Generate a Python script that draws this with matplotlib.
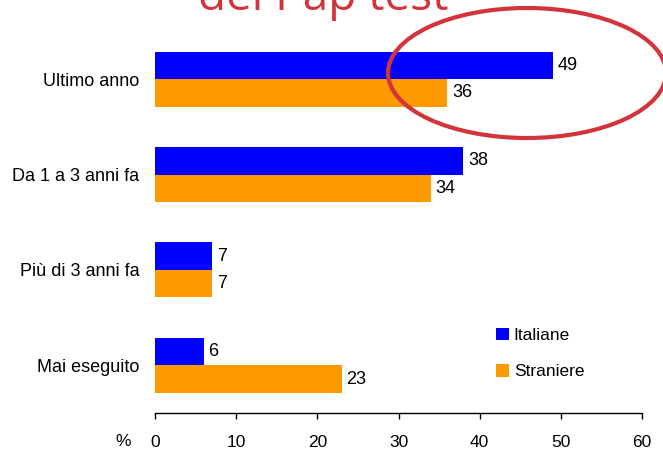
import matplotlib.pyplot as plt
import numpy as np
from matplotlib.patches import Patch, Ellipse

# --- data ---
categories = ["Ultimo anno", "Da 1 a 3 anni fa", "Più di 3 anni fa", "Mai eseguito"]
italiane = [49, 38, 7, 6]
straniere = [36, 34, 7, 23]
series_names = ["Italiane", "Straniere"]
x_ticks = [0, 10, 20, 30, 40, 50, 60]

BLUE = "#0000ff"
ORANGE = "#ff9900"
RED = "#d3343b"

plt.rcParams["font.family"] = ["Liberation Sans", "DejaVu Sans"]

W, H = 663, 453
fig = plt.figure(figsize=(W / 100, H / 100), dpi=100)
ax = fig.add_axes([155 / W, 40 / H, (642 - 155) / W, (413 - 31.5) / H])

# categories top to bottom -> y = 3..0
y = np.arange(len(categories))[::-1]
bh = 0.288
ax.barh(y + bh / 2, italiane, height=bh, color=BLUE)
ax.barh(y - bh / 2, straniere, height=bh, color=ORANGE)

for yi, v in zip(y, italiane):
    ax.annotate(str(v), (v, yi + bh / 2), xytext=(3.5, 0), textcoords="offset points",
                va="center", ha="left", fontsize=13)
for yi, v in zip(y, straniere):
    ax.annotate(str(v), (v, yi - bh / 2), xytext=(3.5, 0), textcoords="offset points",
                va="center", ha="left", fontsize=13)

ax.set_xlim(0, 60)
ax.set_ylim(-0.5, 3.5)
ax.set_xticks(x_ticks)
ax.set_xticklabels([str(t) for t in x_ticks], fontsize=12.5)
ax.set_yticks(y)
ax.set_yticklabels(categories, fontsize=13)
ax.tick_params(axis="y", length=0, pad=11.3)
ax.tick_params(axis="x", direction="out", length=4.3, width=1, pad=11.5)

for side in ["top", "right", "left"]:
    ax.spines[side].set_visible(False)
ax.spines["bottom"].set_linewidth(1)

# "%" unit label left of the x tick labels
fig.text(123 / W, 1 - 442 / H, "%", fontsize=12.5, ha="center", va="center")

# legend
handles = [Patch(facecolor=BLUE, label=series_names[0]),
           Patch(facecolor=ORANGE, label=series_names[1])]
fig.legend(handles=handles, loc="upper left", bbox_to_anchor=(480 / W, 1 - 312 / H),
           frameon=False, fontsize=12.5, handlelength=0.75, handleheight=0.75,
           handletextpad=0.3, labelspacing=1.2)

# clipped red title and highlight ellipse
fig.text(323 / W, 1 - 10 / H, "del Pap test", color=RED, fontsize=33,
         family="Open Sans", ha="center", va="baseline")
fig.patches.append(Ellipse((527 / W, 1 - 73 / H), 278 / W, 130 / H,
                           transform=fig.transFigure, fill=False,
                           edgecolor=RED, linewidth=3))

fig.savefig("out.png", dpi=100)
